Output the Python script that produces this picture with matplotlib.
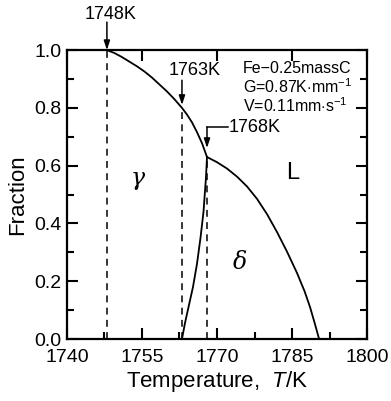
import numpy as np
import matplotlib
matplotlib.use("Agg")
import matplotlib.pyplot as plt
from matplotlib.ticker import MultipleLocator, FormatStrFormatter

plt.rcParams['font.family'] = ['Liberation Sans', 'DejaVu Sans']
plt.rcParams['mathtext.fontset'] = 'custom'
plt.rcParams['mathtext.rm'] = 'Liberation Sans'
plt.rcParams['mathtext.it'] = 'Liberation Sans:italic'

# Liquid fraction from the start of solidification down to the peritectic point
liq_T = [1748.0, 1749.5, 1751.0, 1752.5, 1754.0, 1755.5, 1757.0, 1758.5, 1760.0,
         1761.5, 1763.0, 1764.0, 1765.0, 1766.0, 1767.0, 1767.5, 1768.0]
liq_f = [1.000, 0.990, 0.976, 0.960, 0.944, 0.926, 0.905, 0.881, 0.857,
         0.830, 0.800, 0.777, 0.750, 0.716, 0.678, 0.654, 0.630]

# gamma / delta boundary below the peritectic point
gd_T = [1768.0, 1767.8, 1767.3, 1766.7, 1766.0, 1765.2, 1764.3, 1763.6, 1763.0]
gd_f = [0.630, 0.560, 0.440, 0.350, 0.260, 0.180, 0.110, 0.055, 0.000]

# L / delta boundary
ld_T = [1768.0, 1770.0, 1772.0, 1774.0, 1776.0, 1778.0, 1780.0, 1782.0, 1784.0,
        1786.0, 1787.5, 1788.6, 1789.6, 1790.4]
ld_f = [0.630, 0.612, 0.590, 0.562, 0.528, 0.485, 0.432, 0.370, 0.302,
        0.228, 0.165, 0.110, 0.050, 0.000]

# characteristic temperatures (K)
T_marks = [1748, 1763, 1768]

conditions = ['Fe\u22120.25massC',
              r'G=0.87K$\cdot$mm$^{-1}$',
              r'V=0.11mm$\cdot$s$^{-1}$']

fig = plt.figure(figsize=(3.91, 4.01), dpi=100)
ax = fig.add_axes([0.171, 0.1546, 0.768, 0.7204])

lw = 1.3
ax.plot(liq_T, liq_f, color='k', lw=lw)
ax.plot(gd_T, gd_f, color='k', lw=lw)
ax.plot(ld_T, ld_f, color='k', lw=lw)

for T in T_marks:
    ax.plot([T, T], [0, np.interp(T, liq_T, liq_f)],
            color='k', lw=1.1, ls=(0, (4.5, 3.5)))

arrow = dict(arrowstyle='-|>,head_length=0.55,head_width=0.18', color='k',
             lw=1.1, shrinkA=0, shrinkB=0)
ax.annotate('', xy=(1748, 1.0), xytext=(1748, 1.097), arrowprops=arrow,
            annotation_clip=False)
ax.text(1748.8, 1.125, '1748K', fontsize=13, ha='center', va='center',
        clip_on=False)

ax.annotate('', xy=(1763, 0.81), xytext=(1763, 0.896), arrowprops=arrow)
ax.text(1765.6, 0.931, '1763K', fontsize=13, ha='center', va='center')

ax.plot([1768, 1772.2], [0.734, 0.734], color='k', lw=1.1)
ax.annotate('', xy=(1768, 0.661), xytext=(1768, 0.734), arrowprops=arrow)
ax.text(1772.4, 0.732, '1768K', fontsize=13, ha='left', va='center')

# process conditions
ax.text(1775.2, 0.962, '\n'.join(conditions), fontsize=11.5, ha='left', va='top',
        linespacing=1.05)

# phase regions
ax.text(1754.2, 0.557, '\u03b3', fontsize=17, style='italic', ha='center', va='center',
        family=['DejaVu Serif'])
ax.text(1785.2, 0.574, 'L', fontsize=17, ha='center', va='center')
ax.text(1774.6, 0.265, '\u03b4', fontsize=17, style='italic', ha='center', va='center',
        family=['DejaVu Serif'])

ax.set_xlim(1740, 1800)
ax.set_ylim(0, 1.0)
ax.set_xticks([1740, 1755, 1770, 1785, 1800])
ax.xaxis.set_minor_locator(MultipleLocator(7.5))
ax.yaxis.set_major_locator(MultipleLocator(0.2))
ax.yaxis.set_minor_locator(MultipleLocator(0.1))
ax.yaxis.set_major_formatter(FormatStrFormatter('%.1f'))

ax.tick_params(which='both', direction='in', width=1.5, labelsize=14,
               left=True, right=True, bottom=True, top=True)
ax.tick_params(which='major', length=8)
ax.tick_params(which='minor', length=5, top=False)
ax.tick_params(axis='x', pad=7)
ax.tick_params(axis='y', pad=4)
for s in ax.spines.values():
    s.set_linewidth(1.6)

ax.set_xlabel(r'Temperature,  $T$/K', fontsize=16, labelpad=2)
ax.set_ylabel('Fraction', fontsize=16, labelpad=4)

fig.savefig('out.png', dpi=100)
